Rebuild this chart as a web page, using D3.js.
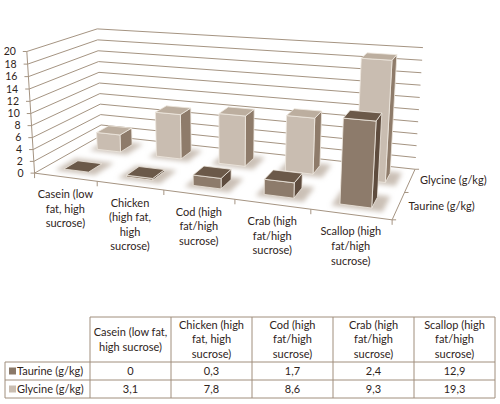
<!DOCTYPE html>
<html><head><meta charset="utf-8">
<script src="https://cdn.jsdelivr.net/npm/d3@7"></script>
<style>
html,body{margin:0;padding:0;background:#fff;}
svg{display:block;font-family:Lato,"Open Sans",sans-serif;}
</style></head>
<body><svg id="c" width="500" height="404"></svg>
<script>
// ---------- data ----------
const categories = ["Casein (low fat, high sucrose)","Chicken (high fat, high sucrose)","Cod (high fat/high sucrose)","Crab (high fat/high sucrose)","Scallop (high fat/high sucrose)"];
const seriesNames = ["Taurine (g/kg)","Glycine (g/kg)"];
const taurine = [0, 0.3, 1.7, 2.4, 12.9];
const glycine = [3.1, 7.8, 8.6, 9.3, 19.3];
const axisLabelLines = [["Casein (low","fat, high","sucrose)"],["Chicken","(high fat,","high","sucrose)"],["Cod (high","fat/high","sucrose)"],["Crab (high","fat/high","sucrose)"],["Scallop (high","fat/high","sucrose)"]];
const tableHeaderLines = [["Casein (low fat,","high sucrose)"],["Chicken (high","fat, high","sucrose)"],["Cod (high","fat/high","sucrose)"],["Crab (high","fat/high","sucrose)"],["Scallop (high","fat/high","sucrose)"]];
const valueDomain = [0, 20];

// ---------- styles ----------
const TEXT = "#2f241b", GRID = "#a59482";
const colors = {
  "Taurine (g/kg)": {front:"#8d7b6b", top:"#6b5949", side:"#5e4c3e", key:"#8a7868"},
  "Glycine (g/kg)": {front:"#c9bdb1", top:"#bcae9f", side:"#8e7b6a", key:"#c9bdb1"}
};

// ---------- camera (perspective fitted to the plot box corners) ----------
const calib = [
  [0,0,0, 35,173],[0,0,1, 27,51],[5,0,0, 392,220],[5,2,0, 415,169],
  [5,2,1, 423,48],[0,2,1, 97,29],[1,0,0, 97,181.5],[2,0,0, 163,190.5],
  [3,0,0, 236,199.5],[4,0,0, 310,209],[5,1,0, 405,192]
];
function fitCamera(pts){
  const A=[],b=[];
  for(const [X,Y,Z,u,v] of pts){
    A.push([X,Y,Z,1,0,0,0,0,-u*X,-u*Y,-u*Z]); b.push(u);
    A.push([0,0,0,0,X,Y,Z,1,-v*X,-v*Y,-v*Z]); b.push(v);
  }
  const n=11, M=[];
  for(let i=0;i<n;i++){M.push(new Array(n+1).fill(0));
    for(let j=0;j<n;j++){let s=0;for(let k=0;k<A.length;k++)s+=A[k][i]*A[k][j];M[i][j]=s;}
    let s=0;for(let k=0;k<A.length;k++)s+=A[k][i]*b[k];M[i][n]=s;}
  for(let c=0;c<n;c++){
    let p=c;for(let r=c+1;r<n;r++)if(Math.abs(M[r][c])>Math.abs(M[p][c]))p=r;
    [M[c],M[p]]=[M[p],M[c]];
    for(let r=0;r<n;r++){if(r===c)continue;const f=M[r][c]/M[c][c];for(let k=c;k<=n;k++)M[r][k]-=f*M[c][k];}
  }
  return M.map((row,i)=>row[n]/row[i]);
}
const P = fitCamera(calib);
function proj(X,Y,Z){
  const w=P[8]*X+P[9]*Y+P[10]*Z+1;
  return [(P[0]*X+P[1]*Y+P[2]*Z+P[3])/w,(P[4]*X+P[5]*Y+P[6]*Z+P[7])/w];
}

// ---------- scales (world units) ----------
const xBand = d3.scaleBand().domain(categories).range([0,5]).paddingInner(0.6).paddingOuter(0.3);
const xCat = d3.scaleBand().domain(categories).range([0,5]);
const depth = d3.scaleBand().domain(seriesNames).range([0,2]).paddingInner(0.6).paddingOuter(0.3);
const depthCat = d3.scaleBand().domain(seriesNames).range([0,2]);
const zScale = d3.scaleLinear().domain(valueDomain).range([0,1]);

const svg = d3.select("#c");
const line = d3.line();

// filter for soft floor shadows
const defs = svg.append("defs");
defs.append("filter").attr("id","blur").attr("x","-50%").attr("y","-50%").attr("width","200%").attr("height","200%")
  .append("feGaussianBlur").attr("stdDeviation",2.6);

// ---------- walls gridlines ----------
const g = svg.append("g");
zScale.ticks(10).forEach(v=>{
  const z=zScale(v);
  g.append("path").attr("d",line([proj(0,0,z),proj(0,2,z),proj(5,2,z)]))
   .attr("fill","none").attr("stroke",GRID).attr("stroke-width",1);
  const p=proj(0,0,z);
  g.append("line").attr("x1",p[0]-4).attr("y1",p[1]).attr("x2",p[0]).attr("y2",p[1]).attr("stroke",GRID);
  g.append("text").attr("x",p[0]-11).attr("y",p[1]).attr("dy","0.36em").attr("text-anchor","end")
   .attr("font-size",10.5).attr("fill",TEXT).text(v);
});
// value axis line
g.append("path").attr("d",line([proj(0,0,0),proj(0,0,1)])).attr("stroke",GRID).attr("fill","none");

// ---------- bars ----------
const bars=[];
seriesNames.forEach((s,si)=>{
  const vals = si===0?taurine:glycine;
  categories.forEach((c,ci)=>{
    bars.push({s,c,v:vals[ci],x0:xBand(c),x1:xBand(c)+xBand.bandwidth(),y0:depth(s),y1:depth(s)+depth.bandwidth(),z1:zScale(vals[ci])});
  });
});
// shadows
const sh = svg.append("g").attr("filter","url(#blur)");
bars.forEach(b=>{
  const e=0.09;
  sh.append("path").attr("d",line([proj(b.x0-e,b.y0-e,0),proj(b.x1+e+0.06,b.y0-e,0),proj(b.x1+e+0.06,b.y1+e,0),proj(b.x0-e,b.y1+e,0)])+"Z")
    .attr("fill","#b9ab9d").attr("opacity",0.75);
});
function area(pts){let a=0;for(let i=0;i<pts.length;i++){const p=pts[i],q=pts[(i+1)%pts.length];a+=p[0]*q[1]-q[0]*p[1];}return a/2;}
const refSign = Math.sign(area([proj(0,0,0),proj(1,0,0),proj(1,0,1),proj(0,0,1)]));
const bg = svg.append("g");
// back row first, then front row
bars.sort((a,b)=>b.y0-a.y0 || a.x0-b.x0).forEach(b=>{
  const {x0,x1,y0,y1,z1}=b, z0=0, col=colors[b.s];
  const faces=[
    {k:"side",v:[[x1,y1,z0],[x0,y1,z0],[x0,y1,z1],[x1,y1,z1]]},
    {k:"side",v:[[x0,y1,z0],[x0,y0,z0],[x0,y0,z1],[x0,y1,z1]]},
    {k:"side",v:[[x1,y0,z0],[x1,y1,z0],[x1,y1,z1],[x1,y0,z1]]},
    {k:"front",v:[[x0,y0,z0],[x1,y0,z0],[x1,y0,z1],[x0,y0,z1]]},
    {k:"top",v:[[x0,y0,z1],[x1,y0,z1],[x1,y1,z1],[x0,y1,z1]]}
  ];
  faces.forEach(f=>{
    const pts=f.v.map(p=>proj(...p));
    const a=area(pts);
    if(Math.abs(a)<0.05 || Math.sign(a)!==refSign) return;
    bg.append("path").attr("d",line(pts)+"Z").attr("fill",col[f.k])
      .attr("stroke","#efe8e0").attr("stroke-width",0.8).attr("stroke-linejoin","round");
  });
});

// ---------- category axis (front floor edge) ----------
const ax = svg.append("g");
ax.append("path").attr("d",line([proj(0,0,0),proj(5,0,0)])).attr("stroke",GRID).attr("fill","none");
d3.range(6).forEach(i=>{const p=proj(i,0,0);
  ax.append("line").attr("x1",p[0]).attr("y1",p[1]).attr("x2",p[0]).attr("y2",p[1]+5).attr("stroke",GRID);});
categories.forEach((c,ci)=>{
  const p=proj(xCat(c)+xCat.bandwidth()/2,0,0);
  const t=ax.append("text").attr("text-anchor","middle").attr("font-size",11).attr("fill",TEXT);
  axisLabelLines[ci].forEach((l,li)=>t.append("tspan").attr("x",p[0]).attr("y",p[1]+17+li*14.6).attr("dy","0.36em").text(l));
});
// depth axis
ax.append("path").attr("d",line([proj(5,0,0),proj(5,2,0)])).attr("stroke",GRID).attr("fill","none");
d3.range(3).forEach(i=>{const p=proj(5,i,0);
  ax.append("line").attr("x1",p[0]).attr("y1",p[1]).attr("x2",p[0]+4).attr("y2",p[1]).attr("stroke",GRID);});
seriesNames.forEach(s=>{
  const p=proj(5,depthCat(s)+depthCat.bandwidth()/2,0);
  ax.append("text").attr("x",p[0]+10).attr("y",p[1]).attr("dy","0.36em").attr("font-size",11).attr("fill",TEXT).text(s);
});

// ---------- data table ----------
const tb = svg.append("g");
const colX = d3.scaleBand().domain(categories).range([90,495]);
const tblTop=317, hdrBot=362, rowH=18, tblLeft=5;
const B = "#a08e7c";
tb.append("line").attr("x1",90).attr("x2",495).attr("y1",tblTop).attr("y2",tblTop).attr("stroke",B);
[hdrBot, hdrBot+rowH, hdrBot+2*rowH].forEach(y=>tb.append("line").attr("x1",tblLeft).attr("x2",495).attr("y1",y).attr("y2",y).attr("stroke",B));
tb.append("line").attr("x1",tblLeft).attr("x2",tblLeft).attr("y1",hdrBot).attr("y2",hdrBot+2*rowH).attr("stroke",B);
categories.forEach(c=>tb.append("line").attr("x1",colX(c)).attr("x2",colX(c)).attr("y1",tblTop).attr("y2",hdrBot+2*rowH).attr("stroke",B));
tb.append("line").attr("x1",495).attr("x2",495).attr("y1",tblTop).attr("y2",hdrBot+2*rowH).attr("stroke",B);
const loc = d3.formatLocale({decimal:",",thousands:".",grouping:[3],currency:["","€"]});
const fmt = loc.format(".3~g");
categories.forEach((c,ci)=>{
  const cx=colX(c)+colX.bandwidth()/2, lines=tableHeaderLines[ci], mid=(tblTop+hdrBot)/2;
  const t=tb.append("text").attr("text-anchor","middle").attr("font-size",11).attr("fill",TEXT);
  lines.forEach((l,li)=>t.append("tspan").attr("x",cx).attr("y",mid+(li-(lines.length-1)/2)*14.6).attr("dy","0.36em").text(l));
});
seriesNames.forEach((s,si)=>{
  const vals=si===0?taurine:glycine, cy=hdrBot+rowH*si+rowH/2;
  tb.append("rect").attr("x",9).attr("y",cy-3.5).attr("width",7).attr("height",7).attr("fill",colors[s].key);
  tb.append("text").attr("x",17).attr("y",cy).attr("dy","0.36em").attr("font-size",11).attr("fill",TEXT).text(s);
  categories.forEach((c,ci)=>tb.append("text").attr("x",colX(c)+colX.bandwidth()/2).attr("y",cy).attr("dy","0.36em")
    .attr("text-anchor","middle").attr("font-size",11).attr("fill",TEXT).text(fmt(vals[ci])));
});
</script></body></html>
